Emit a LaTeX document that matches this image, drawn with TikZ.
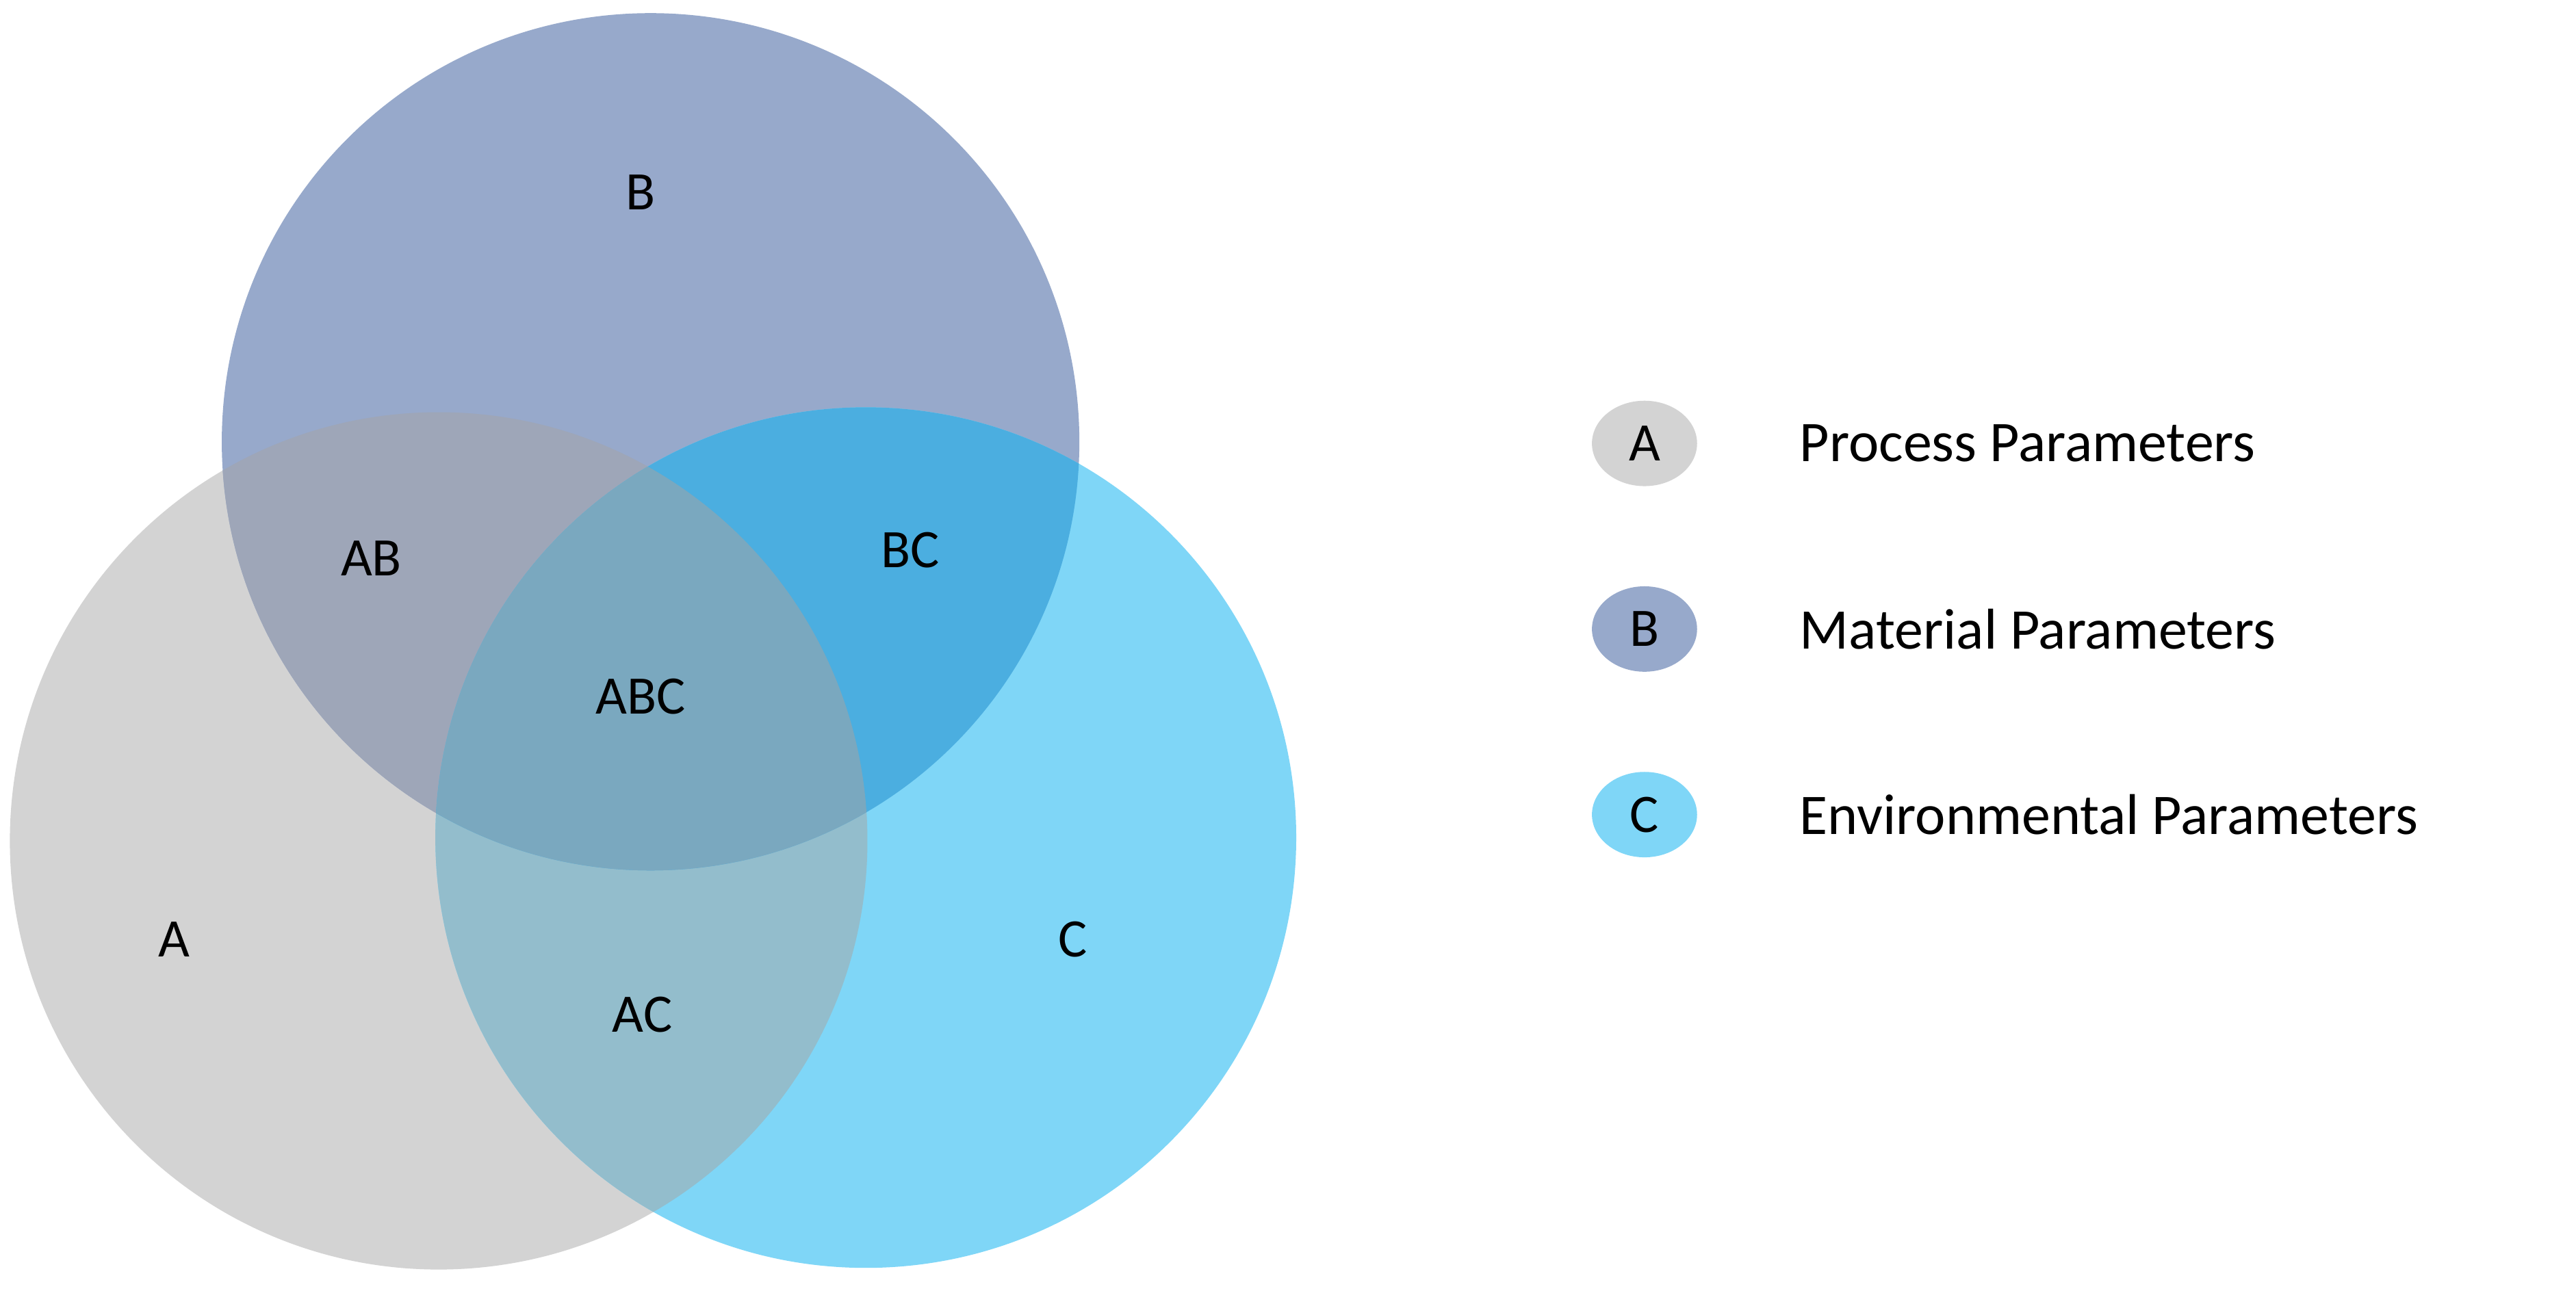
\documentclass[tikz,border=0pt]{standalone}
\usepackage{fontspec}
\setmainfont{Carlito}
\definecolor{cA}{HTML}{D3D3D3}
\definecolor{cB}{HTML}{97A9CB}
\definecolor{cC}{HTML}{7FD6F7}
\definecolor{cAB}{HTML}{9EA6B8}
\definecolor{cAC}{HTML}{93BDCC}
\definecolor{cBC}{HTML}{4BAEE0}
\definecolor{cABC}{HTML}{7AA8BF}
\begin{document}
\begin{tikzpicture}[x=1pt,y=-1pt,
  lab/.style={font=\fontsize{33}{36}\selectfont},
  leg/.style={font=\fontsize{35}{40}\selectfont,anchor=west},
  dot/.style={ellipse,minimum width=64pt,minimum height=52pt,inner sep=0pt,font=\fontsize{33}{36}\selectfont}]
\useasboundingbox (0,0) rectangle (1568,786);
\def\CA{(267,512) circle (261)}
\def\CB{(396,269) circle (261)}
\def\CC{(527,510) circle (262)}
\fill[cA] \CA;
\fill[cB] \CB;
\fill[cC] \CC;
\begin{scope}\clip \CA; \fill[cAB] \CB; \fill[cAC] \CC; \end{scope}
\begin{scope}\clip \CB; \fill[cBC] \CC; \end{scope}
\begin{scope}\clip \CA; \clip \CB; \fill[cABC] \CC; \end{scope}
\node[lab] (a) at (106,572) {A};
\node[lab] (b) at (390,117) {B};
\node[lab] (c) at (653,572) {C};
\node[lab] (ab) at (226,340) {AB};
\node[lab] (bc) at (554,335) {BC};
\node[lab] (ac) at (391,618) {AC};
\node[lab] (abc) at (390,424) {ABC};
\usetikzlibrary{shapes.geometric}
\node[dot,fill=cA] (la) at (1001,270) {A};
\node[dot,fill=cB] (lb) at (1001,383) {B};
\node[dot,fill=cC] (lc) at (1001,496) {C};
\node[leg] (ta) at (1092,270) {Process Parameters};
\node[leg] (tb) at (1092,383) {Material Parameters};
\node[leg] (tc) at (1092,496) {Environmental Parameters};
\end{tikzpicture}
\end{document}
